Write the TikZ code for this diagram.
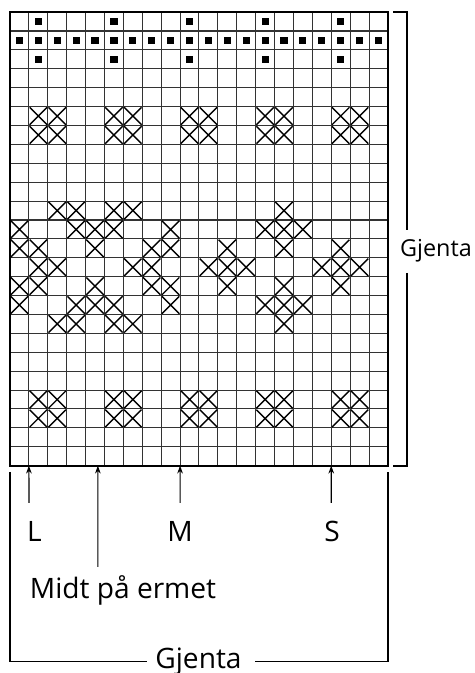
\documentclass[tikz,border=0pt]{standalone}
\usepackage{fontspec}
\setmainfont{Open Sans}
\usetikzlibrary{arrows.meta, positioning}

\begin{document}
\begin{tikzpicture}[
    x=0.02cm, y=0.02cm,
    every node/.style={font=\fontsize{16}{19}\selectfont, inner sep=0pt},
    gl/.style={draw=black!80, line width=0.6pt},
    frame/.style={line width=1.2pt},
    xm/.style={line width=0.8pt},
    arr/.style={-{Stealth[length=4.5pt, width=3.2pt]}, line width=0.65pt},
    brk/.style={line width=0.85pt}
]
    \useasboundingbox (0,0) rectangle (475,673);

    % ===== chart (20 x 24 ruter) =====
    \begin{scope}[xshift=0.2cm, yshift=13.22cm, x=0.378cm, y=-0.378cm]
        \foreach \i in {1,...,19} \draw[gl] (\i,0) -- (\i,24);
        \foreach \j in {1,...,23} \draw[gl] (0,\j) -- (20,\j);
        \draw[frame] (0,0) rectangle (20,24);

        % prikker
        \foreach \c in {2,6,10,14,18} {
            \fill (\c-0.5,0.5) +(-0.19,-0.19) rectangle +(0.19,0.19);
            \fill (\c-0.5,2.5) +(-0.19,-0.19) rectangle +(0.19,0.19);
        }
        \foreach \c in {1,...,20}
            \fill (\c-0.5,1.5) +(-0.19,-0.19) rectangle +(0.19,0.19);

        % kryss
        \foreach \r/\cs in {6/{2,3,6,7,10,11,14,15,18,19},
                            7/{2,3,6,7,10,11,14,15,18,19},
                            11/{3,4,6,7,15},
                            12/{1,4,5,6,9,14,15,16},
                            13/{1,2,5,8,9,12,15,18},
                            14/{2,3,7,8,11,12,13,17,18,19},
                            15/{1,2,5,8,9,12,15,18},
                            16/{1,4,5,6,9,14,15,16},
                            17/{3,4,6,7,15},
                            21/{2,3,6,7,10,11,14,15,18,19},
                            22/{2,3,6,7,10,11,14,15,18,19}}
            \foreach \c in \cs
                \draw[xm] (\c-0.96,\r-0.96) -- (\c-0.04,\r-0.04)
                          (\c-0.04,\r-0.96) -- (\c-0.96,\r-0.04);

        \coordinate (tL) at (1,24);
        \coordinate (tMid) at (4.65,24);
        \coordinate (tM) at (9,24);
        \coordinate (tS) at (17,24);
    \end{scope}

    % ===== størrelser =====
    \node[anchor=base] (L) at (34.5,131) {L};
    \node[anchor=base] (M) at (180,131) {M};
    \node[anchor=base] (S) at (332,131) {S};
    \node[anchor=base] (mid) at (123,74) {Midt på ermet};
    \coordinate (bL) at (29,170);
    \coordinate (bM) at (180.1,170);
    \coordinate (bS) at (331.3,170);
    \coordinate (bMid) at (97.9,106);
    \draw[arr] (bL) -- (tL);
    \draw[arr] (bMid) -- (tMid);
    \draw[arr] (bM) -- (tM);
    \draw[arr] (bS) -- (tS);

    % ===== gjenta (høyre) =====
    \node[anchor=base, font=\fontsize{13.3}{16}\selectfont] (gjR) at (436,416) {Gjenta};
    \coordinate (r1) at (393,661);
    \coordinate (r2) at (407,661);
    \coordinate (r3) at (407,443);
    \coordinate (r4) at (407,400);
    \coordinate (r5) at (407,207);
    \coordinate (r6) at (393,207);
    \draw[brk] (r1) -- (r2) -- (r3);
    \draw[brk] (r4) -- (r5) -- (r6);

    % ===== gjenta (under) =====
    \node[anchor=base] (gjB) at (198.5,5) {Gjenta};
    \coordinate (u1) at (10,201);
    \coordinate (u2) at (10,11.3);
    \coordinate (u3) at (147,11.3);
    \coordinate (u4) at (255,11.3);
    \coordinate (u5) at (388,11.3);
    \coordinate (u6) at (388,201);
    \draw[brk] (u1) -- (u2) -- (u3);
    \draw[brk] (u4) -- (u5) -- (u6);
\end{tikzpicture}
\end{document}
